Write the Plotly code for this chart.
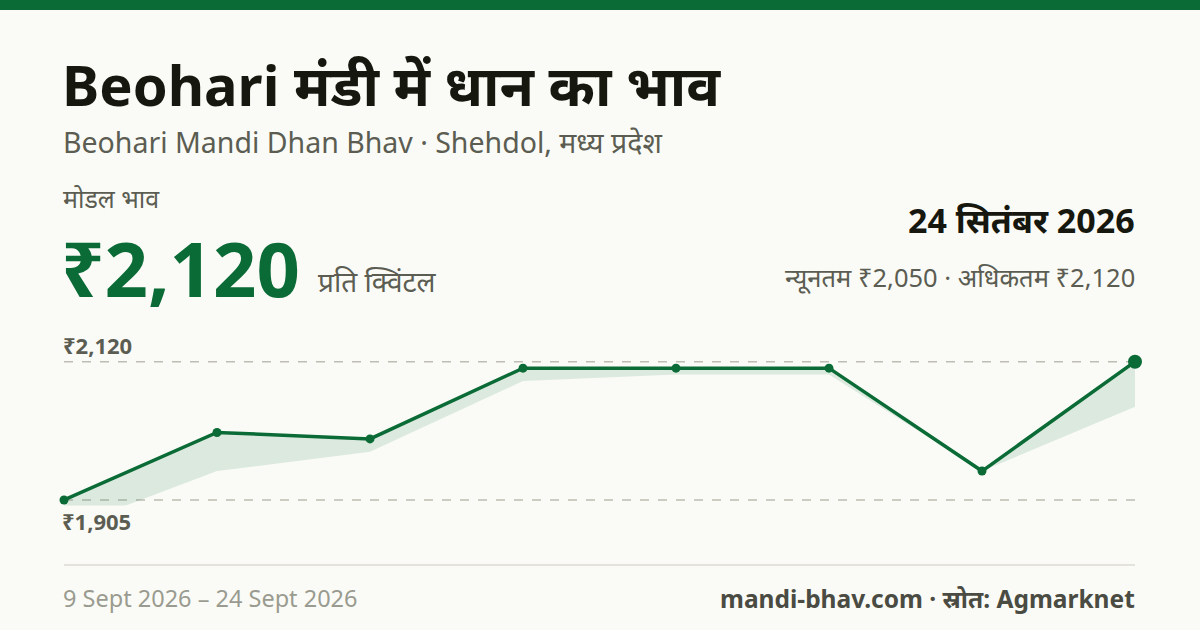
import plotly.graph_objects as go

# ---- data ----
dates = ["9 Sept 2026", "11 Sept 2026", "13 Sept 2026", "15 Sept 2026",
         "17 Sept 2026", "19 Sept 2026", "21 Sept 2026", "24 Sept 2026"]
modal_price = [1905, 2010, 2000, 2110, 2110, 2110, 1950, 2120]
min_price = [1860, 1950, 1980, 2090, 2100, 2100, 1950, 2050]
max_price = [1905, 2010, 2000, 2110, 2110, 2110, 1950, 2120]
latest_date_hi = "24 सितंबर 2026"

W, H = 1200, 630
BG = "#fafbf6"
GREEN = "#0b6b36"
FONT = "Noto Sans, Noto Sans Devanagari, sans-serif"

def px(x):
    return x / W

def py(y):
    return 1 - y / H

idx = list(range(len(modal_price)))
hi, lo = max(modal_price), min(modal_price)

fig = go.Figure()
fig.add_trace(go.Scatter(x=idx, y=min_price, mode="lines", line=dict(width=0),
                         hoverinfo="skip", showlegend=False))
fig.add_trace(go.Scatter(x=idx, y=max_price, mode="lines", line=dict(width=0),
                         fill="tonexty", fillcolor="rgba(11,107,54,0.12)",
                         hoverinfo="skip", showlegend=False))
sizes = [9] * (len(idx) - 1) + [14]
fig.add_trace(go.Scatter(x=idx, y=modal_price, mode="lines+markers",
                         line=dict(color=GREEN, width=3.5),
                         marker=dict(color=GREEN, size=sizes, opacity=1,
                                     line=dict(color=GREEN, width=0)),
                         cliponaxis=False, showlegend=False,
                         text=dates, hovertemplate="%{text}: ₹%{y}<extra></extra>"))

# y mapping: 2120 -> 361.7px, 1905 -> 500px; plot area 320..550
top_px, bot_px = 320, 550
y_hi_px, y_lo_px = 361.7, 500
k = (y_lo_px - y_hi_px) / (hi - lo)
y_top = hi + (y_hi_px - top_px) / k
y_bot = lo - (bot_px - y_lo_px) / k

fig.update_xaxes(domain=[px(64), px(1135)], range=[0, len(idx) - 1],
                 visible=False, fixedrange=True)
fig.update_yaxes(domain=[py(bot_px), py(top_px)], range=[y_bot, y_top],
                 visible=False, fixedrange=True)

shapes = [
    dict(type="rect", xref="paper", yref="paper", x0=0, x1=1, y0=py(10), y1=1,
         fillcolor=GREEN, line=dict(width=0), layer="below"),
    dict(type="line", xref="paper", yref="y", x0=px(64), x1=px(1135), y0=hi, y1=hi,
         line=dict(color="#bdbdb3", width=1.5, dash="dash"), layer="below"),
    dict(type="line", xref="paper", yref="y", x0=px(64), x1=px(1135), y0=lo, y1=lo,
         line=dict(color="#bdbdb3", width=1.5, dash="dash"), layer="below"),
    dict(type="line", xref="paper", yref="paper", x0=px(64), x1=px(1135),
         y0=py(565), y1=py(565), line=dict(color="#e3e3db", width=2)),
]

def fmt(v):
    return "₹" + f"{v:,}"

def ann(text, x, y, size, color, bold=False, xanchor="left", bg=None):
    d = dict(text=(f"<b>{text}</b>" if bold else text), x=px(x), y=py(y),
             xref="paper", yref="paper", xanchor=xanchor, yanchor="middle",
             showarrow=False, font=dict(family=FONT, size=size, color=color))
    if bg:
        d["bgcolor"] = bg
        d["borderpad"] = 0
    return d

annotations = [
    ann("Beohari मंडी में धान का भाव", 60, 84, 56, "#16180f", bold=True),
    ann("Beohari Mandi Dhan Bhav · Shehdol, मध्य प्रदेश", 61, 142, 28.5, "#5c5d52"),
    ann("मोडल भाव", 61, 198, 25, "#5c5d52"),
    ann(fmt(modal_price[-1]), 59, 267, 76, GREEN, bold=True),
    ann("प्रति क्विंटल", 316, 281, 28, "#5c5d52"),
    ann(latest_date_hi, 1137, 220, 34, "#16180f", bold=True, xanchor="right"),
    ann(f"न्यूनतम {fmt(min_price[-1])} · अधिकतम {fmt(max_price[-1])}", 1137, 277, 25.5,
        "#5c5d52", xanchor="right"),
    ann(fmt(hi), 61, 345, 22, "#5c5d52", bold=True),
    ann(fmt(lo), 61, 521, 22, "#5c5d52", bold=True, bg=BG),
    ann(f"{dates[0]} – {dates[-1]}", 61, 598, 23.5, "#9a9b90"),
    ann("mandi-bhav.com · स्रोत: Agmarknet", 1137, 598, 24.5, "#4a4b42", bold=True,
        xanchor="right"),
]

fig.update_layout(width=W, height=H, margin=dict(l=0, r=0, t=0, b=0),
                  paper_bgcolor=BG, plot_bgcolor=BG, autosize=False,
                  shapes=shapes, annotations=annotations, showlegend=False)

fig.write_html("out.html", config={"displayModeBar": False},
               post_script="document.body.style.margin='0';document.body.style.overflow='hidden';")
